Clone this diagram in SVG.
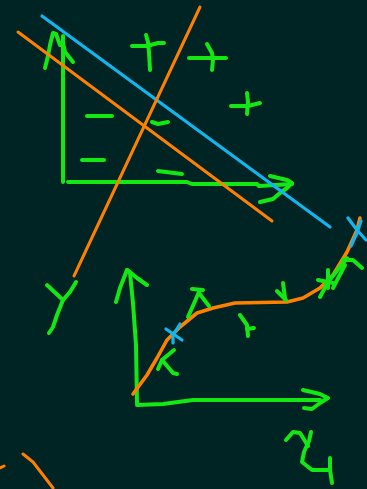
<svg xmlns="http://www.w3.org/2000/svg" width="367" height="489" viewBox="0 0 367 489">
<style>
.g{fill:none;stroke:#14e814;stroke-width:4;stroke-linecap:round;stroke-linejoin:round}
.o{fill:none;stroke:#ff8000;stroke-width:3;stroke-linecap:round;stroke-linejoin:round}
.oc{fill:none;stroke:#ff8000;stroke-width:3.6;stroke-linecap:round;stroke-linejoin:round}
.b{fill:none;stroke:#12b6ee;stroke-width:3.2;stroke-linecap:round;stroke-linejoin:round}
</style>
<rect width="367" height="489" fill="#002323"/>
<g id="top-plot">
<path class="g" d="M63,36 L63,182" stroke-width="3"/>
<path class="g" d="M45,68 L48,56 L50,45 L53,33 L56,34 L60,45 L63,43 L65,52 L73,62"/>
<path class="g" d="M68,182 L187,182 L192,184 L257,184 L259,186 L292,184"/>
<path class="g" d="M270,176 L287,180 L292,183 L287,188 L280,193 L273,199 L260,202"/>
<path class="g" d="M87,116 L112,116"/>
<path class="g" d="M82,160 L104,160"/>
<path class="g" d="M158,171 L182,174"/>
<path class="g" d="M152,122 L158,124 L163,123 L168,122"/>
<path class="g" d="M132,46 L147,46 L158,43 L164,43"/>
<path class="g" d="M146,35 L148,42 L149,52 L150,70"/>
<path class="g" d="M189,58 L226,58"/>
<path class="g" d="M207,44 L212,53 L213,60 L212,70"/>
<path class="g" d="M231,106 L248,106 L260,103"/>
<path class="g" d="M247,93 L248,102 L247,114"/>
<path class="b" d="M42,16 L330,227"/>
<path class="o" d="M18,32 L272,221"/>
<path class="o" d="M200,7 L74,276"/>
<path class="g" d="M47,285 L63,300"/>
<path class="g" d="M76,282 L70,292 L63,300 L57,315 L53,327 L49,333"/>
</g>
<g id="bottom-plot">
<path class="g" d="M137,403 L136,345 L133,303 L130,273 L127,270"/>
<path class="g" d="M116,302 L120,288 L127,270 L130,272 L137,278 L147,285"/>
<path class="g" d="M137,405 L163,404 L193,400 L320,400"/>
<path class="g" d="M303,390 L320,394 L328,398 L320,403 L312,409 L304,408"/>
<path class="oc" d="M133,394 L147,375 L157,358 L167,340 L180,327 L197,313 L213,308 L235,303 L287,302 L303,298 L320,288 L333,275 L347,252 L357,230 L360,218"/>
<path class="b" d="M166,329 L182,340"/>
<path class="b" d="M180,324 L173,335 L173,343"/>
<path class="b" d="M348,218 L357,230 L366,240"/>
<path class="b" d="M361,221 L357,233 L351,246"/>
<path class="g" d="M188,317 L199,292"/>
<path class="g" d="M192,289 L203,290"/>
<path class="g" d="M199,293 L209,306"/>
<path class="g" d="M174,350 L162,360 L158,369"/>
<path class="g" d="M162,360 L168,367 L173,373 L177,374"/>
<path class="g" d="M240,315 L247,325 L248,336"/>
<path class="g" d="M247,329 L254,328"/>
<path class="g" d="M277,291 L286,300"/>
<path class="g" d="M283,283 L285,298"/>
<path class="g" d="M320,297 L328,282 L340,267 L347,258"/>
<path class="g" d="M333,288 L345,265"/>
<path class="g" d="M343,260 L353,260 L362,268"/>
<path class="g" d="M318,280 L333,283"/>
<path class="g" d="M328,270 L328,288"/>
<path class="g" d="M286,440 L293,432 L300,433 L305,441 L308,446"/>
<path class="g" d="M311,432 L309,441 L304,452 L302,462 L312,470 L328,470"/>
<path class="g" d="M330,458 L330,470 L332,483"/>
<path class="o" d="M23,454 L33,462 L43,475 L53,488"/>
<path class="o" d="M0,468 L4,466"/>
</g>
</svg>
